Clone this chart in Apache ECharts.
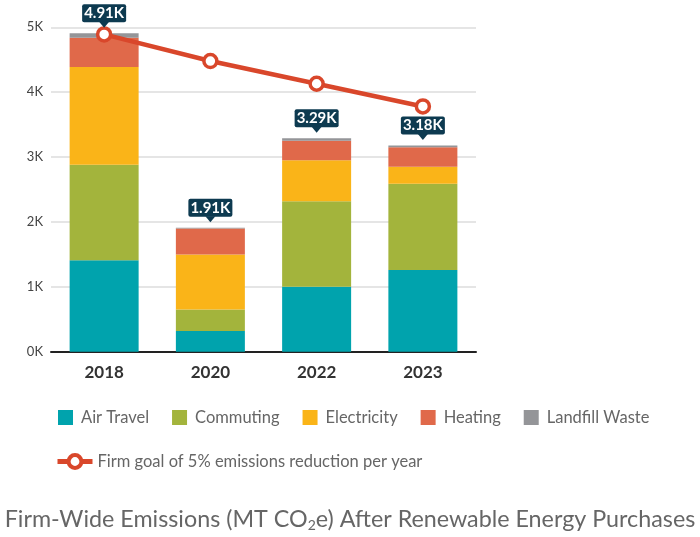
<!DOCTYPE html>
<html>
<head>
<meta charset="utf-8">
<script src="https://cdn.jsdelivr.net/npm/echarts@6/dist/echarts.min.js"></script>
<style>html,body{margin:0;padding:0;background:#fff;}#c{width:700px;height:537px;}</style>
</head>
<body>
<div id="c"></div>
<script>
const years = ['2018', '2020', '2022', '2023'];
const airTravel = [1.41, 0.32, 1.00, 1.26];
const commuting = [1.47, 0.33, 1.32, 1.33];
const electricity = [1.51, 0.85, 0.63, 0.26];
const heating = [0.45, 0.40, 0.30, 0.30];
const landfill = [0.07, 0.01, 0.04, 0.03];
const totals = [4.91, 1.91, 3.29, 3.18];
const goal = [4.89, 4.48, 4.13, 3.78];
const yTicks = [0, 1, 2, 3, 4, 5];

const FONT = 'Lato, "Open Sans", sans-serif';
const chart = echarts.init(document.getElementById('c'));

function bar(name, data, color) {
  return {
    name, type: 'bar', stack: 'total', data, barWidth: 69,
    itemStyle: { color }, emphasis: { disabled: true }, z: 2
  };
}

chart.setOption({
  animation: false,
  textStyle: { fontFamily: FONT },
  title: {
    text: '{a|Firm-Wide Emissions (MT CO}{s|2}{a|e) After Renewable Energy Purchases}',
    left: 'center', top: 500,
    textStyle: {
      fontWeight: 'normal',
      rich: {
        a: { fontSize: 23.3, color: '#666', fontWeight: 'normal', fontFamily: FONT, lineHeight: 28 },
        s: { fontSize: 14, color: '#666', fontWeight: 'normal', fontFamily: FONT, padding: [12, 0, 0, 0], lineHeight: 28 }
      }
    }
  },
  grid: { left: 51, width: 425, top: 27.3, bottom: 185.3, containLabel: false },
  legend: [
    {
      data: ['Air Travel', 'Commuting', 'Electricity', 'Heating', 'Landfill Waste'],
      left: 53, top: 404, itemWidth: 15, itemHeight: 15, itemGap: 23,
      icon: 'rect',
      textStyle: { fontSize: 16.5, color: '#666', fontFamily: FONT, padding: [0, 0, 0, 3] }
    },
    {
      data: ['Firm goal of 5% emissions reduction per year'],
      left: 50, top: 448, itemWidth: 35, itemHeight: 16, itemGap: 10,
      textStyle: { fontSize: 16.5, color: '#666', fontFamily: FONT },
      lineStyle: { width: 5 },
      itemStyle: { borderWidth: 4 }
    }
  ],
  xAxis: {
    type: 'category', data: years,
    axisLine: { lineStyle: { color: '#222', width: 2 } },
    axisTick: { show: false },
    axisLabel: { fontSize: 17, color: '#333', fontWeight: 'bold', margin: 12, fontFamily: FONT }
  },
  yAxis: {
    type: 'value', min: yTicks[0], max: yTicks[yTicks.length - 1], interval: 1,
    axisLine: { show: false }, axisTick: { show: false },
    splitLine: { lineStyle: { color: '#dcdcdc', width: 1.5 } },
    axisLabel: { formatter: v => v + 'K', fontSize: 13, color: '#444', margin: 8, fontFamily: FONT }
  },
  series: [
    bar('Air Travel', airTravel, '#00a3ad'),
    bar('Commuting', commuting, '#a3b43c'),
    bar('Electricity', electricity, '#fab418'),
    bar('Heating', heating, '#e0694a'),
    bar('Landfill Waste', landfill, '#949598'),
    {
      name: 'Firm goal of 5% emissions reduction per year',
      type: 'line', data: goal, z: 5,
      lineStyle: { color: '#d9472b', width: 4.5 },
      itemStyle: { color: '#fff', borderColor: '#d9472b', borderWidth: 3.5 },
      symbol: 'circle', symbolSize: 13,
      emphasis: { disabled: true }
    },
    {
      name: 'totals', type: 'custom', z: 10,
      data: totals.map((t, i) => [i, t]),
      renderItem: function (params, api) {
        const p = api.coord([api.value(0), api.value(1)]);
        const x = p[0], y = p[1];
        const txt = totals[params.dataIndex].toFixed(2) + 'K';
        return {
          type: 'group',
          children: [
            { type: 'rect', shape: { x: x - 22, y: y - 29, width: 44, height: 18, r: 2 }, style: { fill: '#0d3a50' } },
            { type: 'polygon', shape: { points: [[x - 5, y - 11.5], [x + 5, y - 11.5], [x, y - 5.5]] }, style: { fill: '#0d3a50' } },
            { type: 'text', style: { text: txt, x: x, y: y - 20, align: 'center', verticalAlign: 'middle', fill: '#fff', font: 'bold 15px ' + FONT } }
          ]
        };
      }
    }
  ]
});
</script>
</body>
</html>
